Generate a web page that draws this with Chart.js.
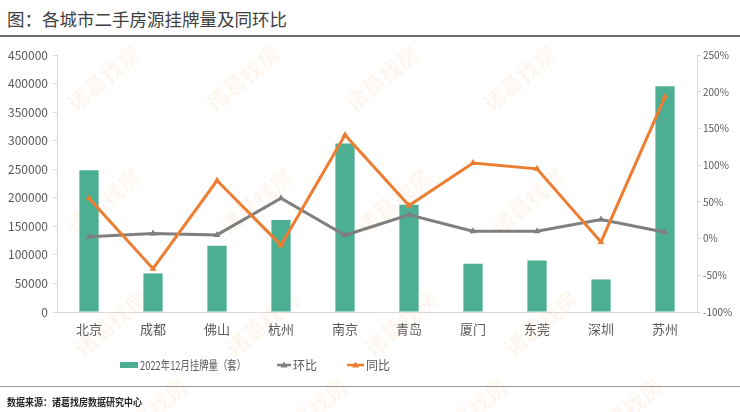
<!DOCTYPE html>
<html>
<head>
<meta charset="utf-8">
<script src="https://cdn.jsdelivr.net/npm/chart.js@4/dist/chart.umd.min.js"></script>
<style>
  html, body { margin: 0; padding: 0; background: #fff; }
  body { width: 740px; height: 412px; position: relative; overflow: hidden; font-family: "Noto Sans CJK SC", sans-serif; }
  #title { position: absolute; left: 7px; top: 6px; font-size: 17.5px; color: #404040; white-space: nowrap; }
  #titleLine { position: absolute; left: 0; top: 35px; width: 740px; height: 1.5px; background: #6b6b6b; }
  #srcLine { position: absolute; left: 0; top: 386px; width: 740px; height: 1px; background: #9a9a9a; }
  #source { position: absolute; left: 7px; top: 394px; font-size: 10px; font-weight: bold; color: #262626; white-space: nowrap; transform: scaleX(0.9); transform-origin: left top; }
  #wrap { position: absolute; left: 0; top: 0; width: 740px; height: 412px; }
  .wm { position: absolute; font-size: 22px; font-weight: bold; color: rgba(243, 160, 90, 0.09); white-space: nowrap; transform: translate(-50%, -50%) rotate(-40deg); }
</style>
</head>
<body>
<div id="marks"></div>
<div id="title">图：各城市二手房源挂牌量及同环比</div>
<div id="titleLine"></div>
<div id="wrap"><canvas id="chart"></canvas></div>
<div id="srcLine"></div>
<div id="source">数据来源：诸葛找房数据研究中心</div>
<script>
// categories and series
const cities = ["北京", "成都", "佛山", "杭州", "南京", "青岛", "厦门", "东莞", "深圳", "苏州"];
const listings = [248000, 67500, 116000, 161000, 295000, 188000, 84500, 90000, 57000, 395500];
const momRate = [0.025, 0.07, 0.05, 0.55, 0.045, 0.325, 0.10, 0.10, 0.26, 0.085];
const yoyRate = [0.55, -0.41, 0.79, -0.09, 1.41, 0.45, 1.03, 0.95, -0.045, 1.93];
const seriesNames = ["2022年12月挂牌量（套）", "环比", "同比"];

const barColor = "#4caf93";
const grayColor = "#7f7f7f";
const orangeColor = "#ed7d31";
const tickColor = "#595959";
const axisColor = "#d9d9d9";

// faint background watermark
const markSpots = [
  [103, 77], [242, 77], [381, 77], [519, 77],
  [103, 200], [255, 200], [393, 200], [527, 200],
  [110, 322], [262, 322], [400, 322], [540, 322],
  [150, 410], [310, 410], [470, 410], [625, 410],
];
const marks = document.getElementById("marks");
markSpots.forEach(([x, y]) => {
  const d = document.createElement("div");
  d.className = "wm";
  d.style.left = x + "px";
  d.style.top = y + "px";
  d.textContent = "诸葛找房";
  marks.appendChild(d);
});

Chart.defaults.font.family = '"Noto Sans CJK SC", sans-serif';

// legend drawn at fixed spots like the original
const legendPlugin = {
  id: "fixedLegend",
  afterDraw(chart) {
    const ctx = chart.ctx;
    const y = 365;
    ctx.save();
    ctx.font = '12px "Noto Sans CJK SC", sans-serif';
    ctx.textBaseline = "middle";
    ctx.fillStyle = barColor;
    ctx.fillRect(120, 362, 18, 6);
    ctx.fillStyle = tickColor;
    ctx.fillText(seriesNames[0], 140, y, 106);

    const lineItem = (x0, x1, color, text, tx) => {
      ctx.strokeStyle = color;
      ctx.lineWidth = 2.5;
      ctx.beginPath();
      ctx.moveTo(x0, y);
      ctx.lineTo(x1, y);
      ctx.stroke();
      const cx = (x0 + x1) / 2;
      ctx.fillStyle = color;
      ctx.beginPath();
      ctx.moveTo(cx, y - 3.5);
      ctx.lineTo(cx + 3.5, y + 2.5);
      ctx.lineTo(cx - 3.5, y + 2.5);
      ctx.closePath();
      ctx.fill();
      ctx.fillStyle = tickColor;
      ctx.fillText(text, tx, y);
    };
    lineItem(277, 291, grayColor, seriesNames[1], 293);
    lineItem(347, 364, orangeColor, seriesNames[2], 366);
    ctx.restore();
  }
};

const ctx = document.getElementById("chart").getContext("2d");
const chart = new Chart(ctx, {
  data: {
    labels: cities,
    datasets: [
      {
        type: "line",
        label: seriesNames[2],
        data: yoyRate,
        yAxisID: "y1",
        borderColor: orangeColor,
        backgroundColor: orangeColor,
        borderWidth: 3,
        pointStyle: "triangle",
        pointRadius: 4,
        pointBorderWidth: 0,
        tension: 0,
        order: 1,
      },
      {
        type: "line",
        label: seriesNames[1],
        data: momRate,
        yAxisID: "y1",
        borderColor: grayColor,
        backgroundColor: grayColor,
        borderWidth: 3,
        pointStyle: "triangle",
        pointRadius: 4,
        pointBorderWidth: 0,
        tension: 0,
        order: 2,
      },
      {
        type: "bar",
        label: seriesNames[0],
        data: listings,
        yAxisID: "y",
        backgroundColor: barColor,
        barPercentage: 0.3,
        categoryPercentage: 1,
        order: 3,
      },
    ],
  },
  options: {
    responsive: true,
    maintainAspectRatio: false,
    animation: false,
    layout: { padding: { top: 55, bottom: 70, left: 0, right: 0 } },
    plugins: {
      legend: { display: false },
      tooltip: { enabled: false },
    },
    scales: {
      x: {
        grid: { display: false, drawTicks: false },
        border: { display: true, color: axisColor, width: 1 },
        ticks: { color: tickColor, font: { size: 13 }, padding: 9 },
        afterFit: (s) => { s.height = 30; },
      },
      y: {
        position: "left",
        min: 0,
        max: 450000,
        ticks: {
          stepSize: 50000,
          color: tickColor,
          font: { size: 12 },
          padding: 5,
          callback: (v) => String(v),
        },
        grid: { drawOnChartArea: false, tickLength: 4, color: axisColor },
        border: { color: axisColor },
        afterFit: (s) => { s.width = 57; },
      },
      y1: {
        position: "right",
        min: -1,
        max: 2.5,
        ticks: {
          stepSize: 0.5,
          color: tickColor,
          font: { size: 10 },
          padding: 2,
          callback: (v) => Math.round(v * 100) + "%",
        },
        grid: { drawOnChartArea: false, tickLength: 4, color: axisColor },
        border: { color: axisColor },
        afterFit: (s) => { s.width = 43; },
      },
    },
  },
  plugins: [legendPlugin],
});
</script>
</body>
</html>
